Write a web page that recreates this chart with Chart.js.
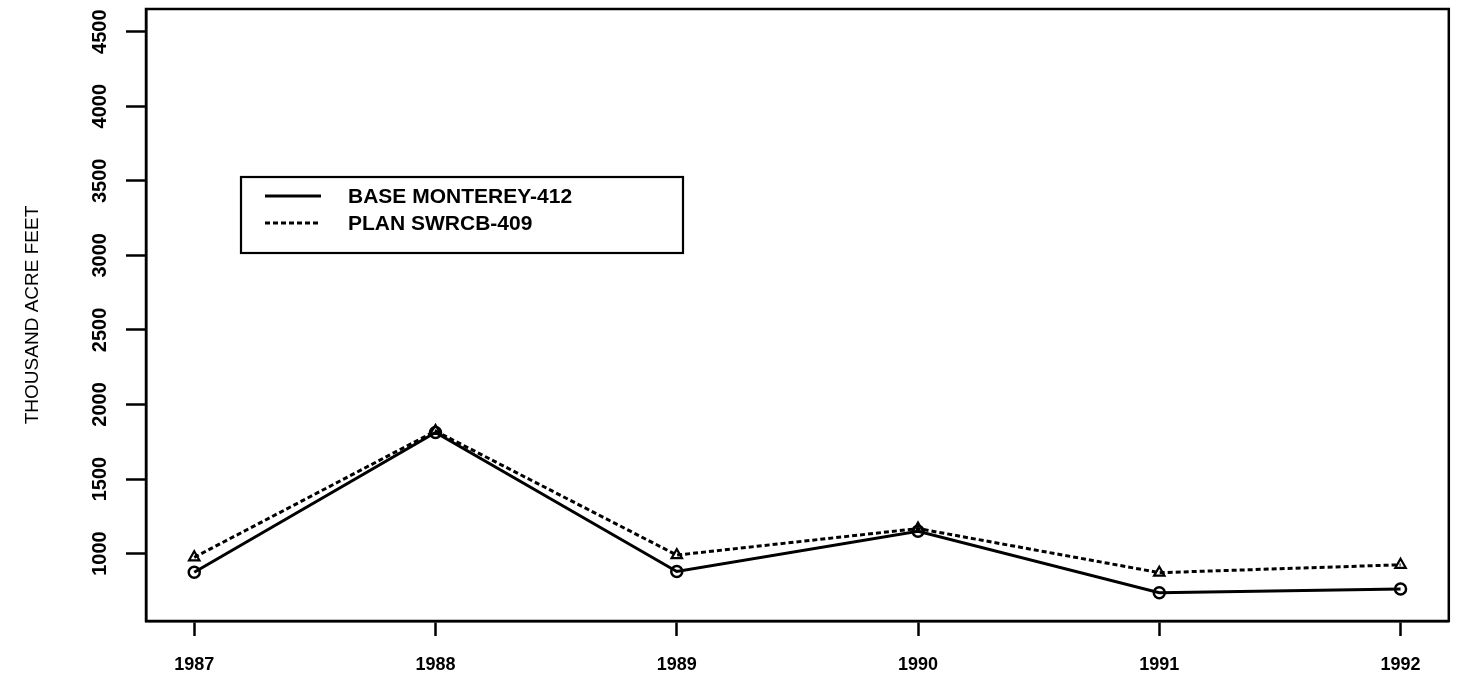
<!DOCTYPE html>
<html>
<head>
<meta charset="utf-8">
<script src="https://cdn.jsdelivr.net/npm/chart.js@4.4.1/dist/chart.umd.min.js"></script>
<style>
  html, body { margin: 0; padding: 0; background: #fff; }
  canvas { display: block; }
</style>
</head>
<body>
<canvas id="c" width="1457" height="687"></canvas>
<script>
// Annual volumes, thousand acre-feet
const years = [1987, 1988, 1989, 1990, 1991, 1992];
const baseMonterey = [875, 1812, 880, 1150, 738, 762];
const planSwrcb = [975, 1822, 990, 1168, 872, 925];
const yTicks = [1000, 1500, 2000, 2500, 3000, 3500, 4000, 4500];
const seriesNames = ['BASE MONTEREY-412', 'PLAN SWRCB-409'];
const yTitle = 'THOUSAND ACRE FEET';

const FONT = '"Liberation Sans", Arial, sans-serif';
const INK = '#000';

// Full box around the plotting region
const frame = {
  id: 'frame',
  afterDatasetsDraw(chart) {
    const { ctx, chartArea: a } = chart;
    ctx.save();
    ctx.strokeStyle = INK;
    ctx.lineWidth = 2.5;
    ctx.strokeRect(a.left, a.top, a.right - a.left, a.bottom - a.top);
    ctx.restore();
  }
};

// Boxed key with line samples, placed inside the plot
const boxLegend = {
  id: 'boxLegend',
  afterDraw(chart) {
    const ctx = chart.ctx;
    const bx = 241, by = 177, bw = 442, bh = 76;
    ctx.save();
    ctx.fillStyle = '#fff';
    ctx.fillRect(bx, by, bw, bh);
    ctx.strokeStyle = INK;
    ctx.lineWidth = 2.2;
    ctx.strokeRect(bx, by, bw, bh);
    chart.data.datasets.forEach((ds, i) => {
      const y = by + 19 + i * 27;
      ctx.beginPath();
      ctx.setLineDash(ds.borderDash || []);
      ctx.lineWidth = ds.borderWidth;
      ctx.moveTo(bx + 24, y);
      ctx.lineTo(bx + 80, y);
      ctx.stroke();
      ctx.setLineDash([]);
      ctx.fillStyle = INK;
      ctx.font = 'bold 21px ' + FONT;
      ctx.textAlign = 'left';
      ctx.textBaseline = 'middle';
      ctx.fillText(ds.label, bx + 107, y + 1);
    });
    ctx.restore();
  }
};

const toPoints = vals => years.map((yr, i) => ({ x: yr, y: vals[i] }));

new Chart(document.getElementById('c'), {
  type: 'line',
  data: {
    datasets: [
      {
        label: seriesNames[0],
        data: toPoints(baseMonterey),
        borderColor: INK,
        borderWidth: 3,
        pointStyle: 'circle',
        pointRadius: 5.5,
        pointBorderWidth: 2.5,
        pointBorderColor: INK,
        pointBackgroundColor: 'rgba(0,0,0,0)',
        tension: 0
      },
      {
        label: seriesNames[1],
        data: toPoints(planSwrcb),
        borderColor: INK,
        borderWidth: 3,
        borderDash: [5, 3],
        pointStyle: 'triangle',
        pointRadius: 6,
        pointBorderWidth: 2.2,
        pointBorderColor: INK,
        pointBackgroundColor: 'rgba(0,0,0,0)',
        tension: 0
      }
    ]
  },
  options: {
    responsive: false,
    animation: false,
    devicePixelRatio: 1,
    layout: { padding: { top: 9, right: 8, left: 0, bottom: 0 } },
    plugins: {
      legend: { display: false },
      tooltip: { enabled: false }
    },
    scales: {
      x: {
        type: 'linear',
        min: 1986.8,
        max: 1992.2,
        afterBuildTicks: s => { s.ticks = years.map(v => ({ value: v })); },
        afterFit: s => { s.height = 66; s.paddingLeft = 0; s.paddingRight = 0; },
        ticks: {
          callback: v => String(v),
          color: INK,
          font: { family: FONT, size: 18, weight: 'bold' },
          padding: 18,
          maxRotation: 0,
          autoSkip: false
        },
        grid: {
          drawOnChartArea: false,
          drawTicks: true,
          tickLength: 15,
          tickWidth: 2.5,
          tickColor: INK
        },
        border: { display: true, color: INK, width: 2.5 }
      },
      y: {
        type: 'linear',
        min: 548,
        max: 4652,
        afterBuildTicks: s => { s.ticks = yTicks.map(v => ({ value: v })); },
        afterFit: s => { s.width = 146; s.paddingTop = 0; s.paddingBottom = 0; },
        ticks: {
          callback: v => String(v),
          color: INK,
          font: { family: FONT, size: 20, weight: 'bold' },
          minRotation: 90,
          maxRotation: 90,
          crossAlign: 'center',
          padding: 3
        },
        grid: {
          drawOnChartArea: false,
          drawTicks: true,
          tickLength: 20,
          tickWidth: 2.5,
          tickColor: INK
        },
        border: { display: true, color: INK, width: 2.5 },
        title: {
          display: true,
          text: yTitle,
          color: INK,
          font: { family: FONT, size: 19, weight: 'normal' },
          padding: { top: 21, bottom: 0 }
        }
      }
    }
  },
  plugins: [frame, boxLegend]
});
</script>
</body>
</html>
